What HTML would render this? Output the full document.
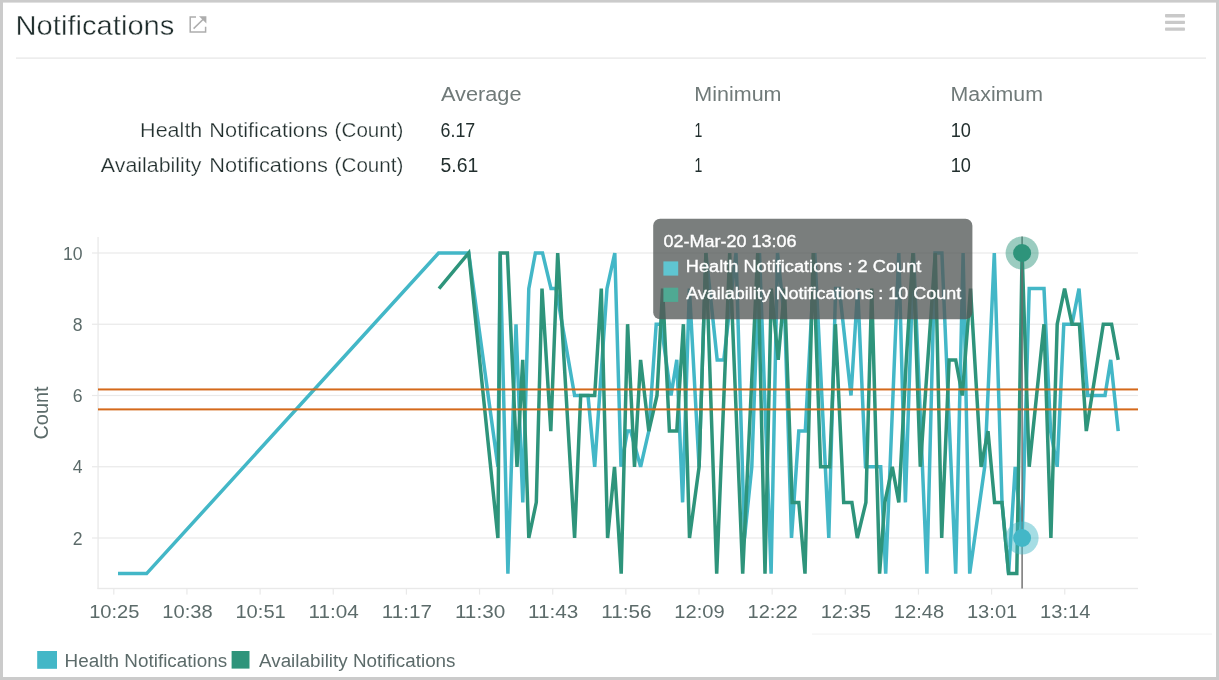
<!DOCTYPE html>
<html><head><meta charset="utf-8"><title>Notifications</title>
<style>
html,body{margin:0;padding:0;background:#fff;}
body{width:1219px;height:680px;overflow:hidden;font-family:"Liberation Sans",sans-serif;}
svg{display:block;font-family:"Liberation Sans",sans-serif;will-change:transform;}
</style></head><body>
<svg width="1219" height="680" viewBox="0 0 1219 680">
<rect x="0" y="0" width="1219" height="680" fill="#cbcbcb"/>
<rect x="3" y="2.6" width="1213" height="674.4" fill="#ffffff"/>
<text id="t_title" x="15.57" y="35" font-size="27.4" fill="#1f2d2c" stroke="#ffffff" stroke-width="0.4" textLength="158.85" lengthAdjust="spacingAndGlyphs">Notifications</text>
<g fill="none" stroke="#adadad" stroke-width="1.5"><path d="M196 16.9H190.2V32H205.6V26.8"/><path d="M193.6 28.6L204.5 18"/></g><path d="M199 16.2H206.4V23.4Z" fill="#adadad"/>
<rect x="1165" y="14.1" width="20" height="3.3" rx="0.8" fill="#c9c9c9"/>
<rect x="1165" y="20.8" width="20" height="3.3" rx="0.8" fill="#c9c9c9"/>
<rect x="1165" y="27.4" width="20" height="3.3" rx="0.8" fill="#c9c9c9"/>
<rect x="16" y="57.4" width="1190" height="1.4" fill="#e9e9e9"/>
<text id="t_avg" x="441" y="101" font-size="19.6" fill="#707a79" textLength="80.49" lengthAdjust="spacingAndGlyphs">Average</text>
<text id="t_min" x="694.3" y="101" font-size="19.6" fill="#707a79" textLength="87.21" lengthAdjust="spacingAndGlyphs">Minimum</text>
<text id="t_max" x="950.61" y="101" font-size="19.6" fill="#707a79" textLength="92.39" lengthAdjust="spacingAndGlyphs">Maximum</text>
<text x="140.09" y="137" font-size="19.4" fill="#222f2e" textLength="62.29" lengthAdjust="spacingAndGlyphs" stroke="#ffffff" stroke-width="0.25">Health</text>
<text x="209.38" y="137" font-size="19.4" fill="#222f2e" textLength="118.52" lengthAdjust="spacingAndGlyphs" stroke="#ffffff" stroke-width="0.25">Notifications</text>
<text x="334.64" y="137" font-size="19.4" fill="#222f2e" textLength="68.78" lengthAdjust="spacingAndGlyphs" stroke="#ffffff" stroke-width="0.25">(Count)</text>
<text x="100.8" y="172" font-size="19.4" fill="#222f2e" textLength="100.69" lengthAdjust="spacingAndGlyphs" stroke="#ffffff" stroke-width="0.25">Availability</text>
<text x="209.38" y="172" font-size="19.4" fill="#222f2e" textLength="118.52" lengthAdjust="spacingAndGlyphs" stroke="#ffffff" stroke-width="0.25">Notifications</text>
<text x="334.64" y="172" font-size="19.4" fill="#222f2e" textLength="68.78" lengthAdjust="spacingAndGlyphs" stroke="#ffffff" stroke-width="0.25">(Count)</text>
<text id="t_v1" x="440.58" y="137" font-size="19.4" fill="#222f2e" textLength="34.6" lengthAdjust="spacingAndGlyphs">6.17</text>
<text id="t_v2" x="440.5" y="172" font-size="19.4" fill="#222f2e" textLength="37.75" lengthAdjust="spacingAndGlyphs">5.61</text>
<text id="t_mn0" x="694.6" y="137" font-size="19.4" fill="#222f2e" textLength="7.8" lengthAdjust="spacingAndGlyphs">1</text>
<text id="t_mx0" x="950.77" y="137" font-size="19.4" fill="#222f2e" textLength="20.18" lengthAdjust="spacingAndGlyphs">10</text>
<text id="t_mn1" x="694.6" y="172" font-size="19.4" fill="#222f2e" textLength="7.8" lengthAdjust="spacingAndGlyphs">1</text>
<text id="t_mx1" x="950.77" y="172" font-size="19.4" fill="#222f2e" textLength="20.18" lengthAdjust="spacingAndGlyphs">10</text>
<rect x="92" y="537.40" width="1046" height="1.2" fill="#e9e9e9"/>
<rect x="92" y="466.15" width="1046" height="1.2" fill="#e9e9e9"/>
<rect x="92" y="394.90" width="1046" height="1.2" fill="#e9e9e9"/>
<rect x="92" y="323.65" width="1046" height="1.2" fill="#e9e9e9"/>
<rect x="92" y="252.40" width="1046" height="1.2" fill="#e9e9e9"/>
<rect x="97.4" y="237" width="1.3" height="352" fill="#e9e9e9"/>
<rect x="97.4" y="587.8" width="1040.6" height="1.4" fill="#e9e9e9"/>
<rect x="113.20" y="588" width="1.2" height="6.6" fill="#e9e9e9"/>
<rect x="186.35" y="588" width="1.2" height="6.6" fill="#e9e9e9"/>
<rect x="259.50" y="588" width="1.2" height="6.6" fill="#e9e9e9"/>
<rect x="332.65" y="588" width="1.2" height="6.6" fill="#e9e9e9"/>
<rect x="405.80" y="588" width="1.2" height="6.6" fill="#e9e9e9"/>
<rect x="478.95" y="588" width="1.2" height="6.6" fill="#e9e9e9"/>
<rect x="552.10" y="588" width="1.2" height="6.6" fill="#e9e9e9"/>
<rect x="625.25" y="588" width="1.2" height="6.6" fill="#e9e9e9"/>
<rect x="698.40" y="588" width="1.2" height="6.6" fill="#e9e9e9"/>
<rect x="771.55" y="588" width="1.2" height="6.6" fill="#e9e9e9"/>
<rect x="844.70" y="588" width="1.2" height="6.6" fill="#e9e9e9"/>
<rect x="917.85" y="588" width="1.2" height="6.6" fill="#e9e9e9"/>
<rect x="991.00" y="588" width="1.2" height="6.6" fill="#e9e9e9"/>
<rect x="1064.15" y="588" width="1.2" height="6.6" fill="#e9e9e9"/>
<text class="xl" x="114.30" y="618" font-size="19" fill="#5c6b6a" text-anchor="middle" textLength="50.3" lengthAdjust="spacingAndGlyphs">10:25</text>
<text class="xl" x="187.45" y="618" font-size="19" fill="#5c6b6a" text-anchor="middle" textLength="50.3" lengthAdjust="spacingAndGlyphs">10:38</text>
<text class="xl" x="260.60" y="618" font-size="19" fill="#5c6b6a" text-anchor="middle" textLength="50.3" lengthAdjust="spacingAndGlyphs">10:51</text>
<text class="xl" x="333.75" y="618" font-size="19" fill="#5c6b6a" text-anchor="middle" textLength="50.3" lengthAdjust="spacingAndGlyphs">11:04</text>
<text class="xl" x="406.90" y="618" font-size="19" fill="#5c6b6a" text-anchor="middle" textLength="50.3" lengthAdjust="spacingAndGlyphs">11:17</text>
<text class="xl" x="480.05" y="618" font-size="19" fill="#5c6b6a" text-anchor="middle" textLength="50.3" lengthAdjust="spacingAndGlyphs">11:30</text>
<text class="xl" x="553.20" y="618" font-size="19" fill="#5c6b6a" text-anchor="middle" textLength="50.3" lengthAdjust="spacingAndGlyphs">11:43</text>
<text class="xl" x="626.35" y="618" font-size="19" fill="#5c6b6a" text-anchor="middle" textLength="50.3" lengthAdjust="spacingAndGlyphs">11:56</text>
<text class="xl" x="699.50" y="618" font-size="19" fill="#5c6b6a" text-anchor="middle" textLength="50.3" lengthAdjust="spacingAndGlyphs">12:09</text>
<text class="xl" x="772.65" y="618" font-size="19" fill="#5c6b6a" text-anchor="middle" textLength="50.3" lengthAdjust="spacingAndGlyphs">12:22</text>
<text class="xl" x="845.80" y="618" font-size="19" fill="#5c6b6a" text-anchor="middle" textLength="50.3" lengthAdjust="spacingAndGlyphs">12:35</text>
<text class="xl" x="918.95" y="618" font-size="19" fill="#5c6b6a" text-anchor="middle" textLength="50.3" lengthAdjust="spacingAndGlyphs">12:48</text>
<text class="xl" x="992.10" y="618" font-size="19" fill="#5c6b6a" text-anchor="middle" textLength="50.3" lengthAdjust="spacingAndGlyphs">13:01</text>
<text class="xl" x="1065.25" y="618" font-size="19" fill="#5c6b6a" text-anchor="middle" textLength="50.3" lengthAdjust="spacingAndGlyphs">13:14</text>
<text class="yl" x="82.6" y="544.6" font-size="17.6" fill="#5c6b6a" text-anchor="end">2</text>
<text class="yl" x="82.6" y="473.4" font-size="17.6" fill="#5c6b6a" text-anchor="end">4</text>
<text class="yl" x="82.6" y="402.1" font-size="17.6" fill="#5c6b6a" text-anchor="end">6</text>
<text class="yl" x="82.6" y="330.9" font-size="17.6" fill="#5c6b6a" text-anchor="end">8</text>
<text class="yl" x="82.6" y="259.6" font-size="17.6" fill="#5c6b6a" text-anchor="end" textLength="19.6" lengthAdjust="spacingAndGlyphs">10</text>
<text id="t_count" transform="translate(48.2,439.5) rotate(-90)" font-size="20" fill="#5c6b6a" textLength="53" lengthAdjust="spacingAndGlyphs">Count</text>
<polyline points="118.0,573.6 146.6,573.6 438.6,253.0 468.7,253.0 497.9,466.8 500.2,253.0 507.9,573.6 516.0,324.2 522.8,502.4 528.8,288.6 535.4,253.0 542.5,253.0 551.0,288.6 556.0,288.6 574.6,395.5 588.0,395.5 594.7,466.8 607.0,288.6 614.8,253.0 621.0,466.8 627.4,431.1 630.7,431.1 640.6,466.8 648.8,431.1 656.2,324.2 661.0,324.2 671.0,395.5 676.8,359.9 682.6,502.4 689.4,288.6 699.1,466.8 705.9,253.0 717.2,359.9 723.8,359.9 736.0,253.0 744.5,538.0 751.8,466.8 759.5,253.0 771.1,573.6 777.5,253.0 785.0,324.2 791.5,538.0 798.8,431.1 805.3,431.1 814.8,253.0 828.8,538.0 835.6,288.6 839.3,288.6 851.0,395.5 857.7,288.6 865.5,466.8 880.7,466.8 885.7,573.6 898.8,253.0 905.4,502.4 913.5,253.0 926.9,573.6 935.0,253.0 941.9,253.0 955.7,573.6 963.1,253.0 969.7,573.6 984.7,466.8 994.3,253.0 1002.0,502.4 1008.6,573.6 1015.2,466.8 1022.1,538.0 1029.2,288.6 1044.0,288.6 1050.6,431.1 1057.2,466.8 1063.8,324.2 1072.0,324.2 1079.0,288.6 1087.7,395.5 1105.0,395.5 1110.7,359.9 1118.2,431.1" fill="none" stroke="#43b7c7" stroke-width="3.5" stroke-linejoin="miter" stroke-miterlimit="4"/>
<polyline points="439.0,288.6 468.7,253.0 497.9,538.0 500.2,253.0 507.4,253.0 517.0,466.8 522.7,359.9 528.8,538.0 536.3,502.4 542.0,288.6 550.8,431.1 557.7,253.0 574.6,538.0 580.7,395.5 594.7,395.5 601.3,288.6 607.6,538.0 614.5,466.8 621.2,573.6 627.6,324.2 634.5,466.8 640.6,359.9 648.8,431.1 657.0,395.5 662.6,288.6 669.4,431.1 676.8,431.1 683.4,324.2 689.5,538.0 699.1,466.8 705.9,253.0 716.7,573.6 729.7,253.0 742.7,573.6 757.7,253.0 765.0,573.6 771.3,288.6 778.2,359.9 784.5,288.6 792.2,502.4 798.8,502.4 805.0,573.6 813.2,253.0 820.6,466.8 829.7,466.8 835.4,324.2 843.7,502.4 851.9,502.4 857.3,538.0 865.9,502.4 871.7,288.6 879.6,573.6 884.8,502.4 892.3,466.8 898.8,502.4 906.3,359.9 912.9,253.0 920.3,466.8 935.3,253.0 941.7,538.0 949.1,359.9 955.7,359.9 962.3,395.5 970.5,288.6 981.1,466.8 988.0,431.1 994.6,502.4 1002.0,502.4 1008.6,573.6 1016.8,573.6 1022.1,253.0 1029.2,466.8 1044.0,324.2 1050.9,538.0 1057.2,324.2 1064.6,288.6 1072.0,324.2 1079.4,324.2 1086.3,431.1 1103.3,324.2 1111.6,324.2 1118.2,359.9" fill="none" stroke="#2e947b" stroke-width="3.5" stroke-linejoin="miter" stroke-miterlimit="4"/>
<rect x="98" y="388.44" width="1040" height="2" fill="#d4691b"/>
<rect x="98" y="408.39" width="1040" height="2" fill="#d4691b"/>
<rect x="1021.4" y="236.5" width="1.4" height="352" fill="#6b6b6b"/>
<circle cx="1022.1" cy="253.0" r="16.5" fill="#2e947b" fill-opacity="0.48"/><circle cx="1022.1" cy="253.0" r="9" fill="#2e947b"/>
<circle cx="1022.1" cy="538.0" r="16.5" fill="#43b7c7" fill-opacity="0.48"/><circle cx="1022.1" cy="538.0" r="9" fill="#43b7c7"/>
<rect x="653.2" y="218.8" width="319.2" height="100.5" rx="7" ry="7" fill="#555a58" fill-opacity="0.78"/>
<text id="tt0" stroke="#ffffff" stroke-width="0.35" x="663.6" y="246.8" font-size="16.2" fill="#fff" textLength="133" lengthAdjust="spacingAndGlyphs">02-Mar-20 13:06</text>
<rect x="663.4" y="261.4" width="14.8" height="14.2" fill="#5fc5d1"/>
<rect x="663.4" y="287.7" width="14.8" height="14.2" fill="#4fa993"/>
<text id="tt1" stroke="#ffffff" stroke-width="0.35" x="685.8" y="272.3" font-size="16" fill="#fff" textLength="235.5" lengthAdjust="spacingAndGlyphs">Health Notifications : 2 Count</text>
<text id="tt2" stroke="#ffffff" stroke-width="0.35" x="686.2" y="298.9" font-size="16" fill="#fff" textLength="275" lengthAdjust="spacingAndGlyphs">Availability Notifications : 10 Count</text>
<rect x="812" y="633.4" width="400" height="1.4" fill="#f6f6f6"/>
<rect x="37.2" y="651" width="19.8" height="17.8" fill="#43b7c7"/>
<rect x="231.6" y="651" width="17.9" height="17.6" fill="#2e947b"/>
<text id="lg1" x="64.6" y="666.7" font-size="17.6" fill="#5c6b6a" textLength="162.5" lengthAdjust="spacingAndGlyphs">Health Notifications</text>
<text id="lg2" x="259" y="666.7" font-size="17.6" fill="#5c6b6a" textLength="196.5" lengthAdjust="spacingAndGlyphs">Availability Notifications</text>
</svg></body></html>
